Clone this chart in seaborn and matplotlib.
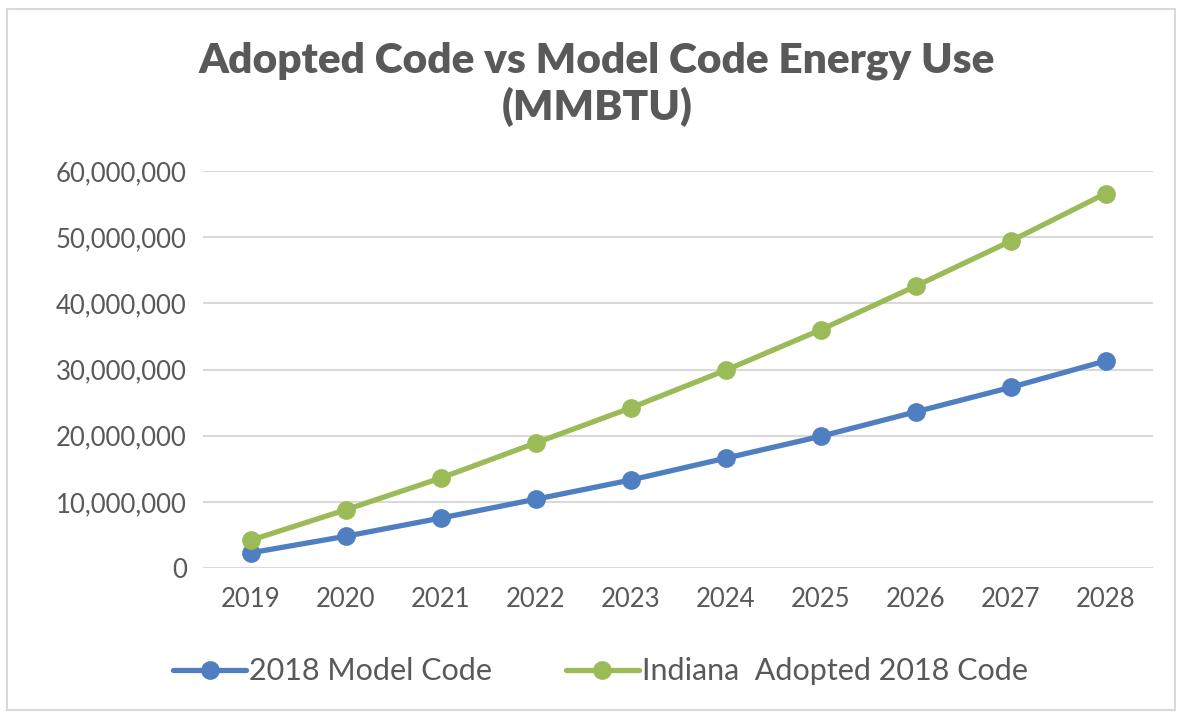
import pandas as pd
import matplotlib.pyplot as plt
import matplotlib.ticker as mticker
import seaborn as sns

# values (MMBTU)
years = [2019, 2020, 2021, 2022, 2023, 2024, 2025, 2026, 2027, 2028]
model_code = [2300000, 4800000, 7550000, 10400000, 13300000, 16600000,
              19900000, 23600000, 27300000, 31300000]
indiana_code = [4200000, 8800000, 13600000, 18900000, 24200000, 29900000,
                36000000, 42600000, 49400000, 56600000]
series_names = ["2018 Model Code", "Indiana  Adopted 2018 Code"]
colors = ["#4F7FC0", "#9BBB59"]

df = pd.DataFrame({
    "year": years * 2,
    "value": model_code + indiana_code,
    "series": [series_names[0]] * len(years) + [series_names[1]] * len(years),
})

sns.set_style("white")
plt.rcParams["font.family"] = ["Lato", "DejaVu Sans"]
text_color = "#595959"

fig = plt.figure(figsize=(11.82, 7.12), dpi=100)
ax = fig.add_axes([0.172, 0.2022, 0.8035, 0.5576])

sns.lineplot(data=df, x="year", y="value", hue="series", palette=colors,
             marker="o", markersize=13.5, markeredgewidth=0, linewidth=3.8,
             ax=ax)

ax.set_xlim(2018.5, 2028.5)
ax.set_ylim(0, 60000000)
ax.set_xticks(years)
ax.set_yticks(range(0, 60000001, 10000000))
ax.yaxis.set_major_formatter(mticker.FuncFormatter(lambda v, p: f"{int(v):,}"))
ax.grid(axis="y", color="#D9D9D9", linewidth=1.5)
ax.set_axisbelow(True)
for s in ax.spines.values():
    s.set_visible(False)
ax.tick_params(axis="both", length=0, labelsize=18.5, labelcolor=text_color)
ax.tick_params(axis="x", pad=14)
ax.tick_params(axis="y", pad=12)
ax.set_xlabel("")
ax.set_ylabel("")

fig.text(0.505, 0.882, "Adopted Code vs Model Code Energy Use\n(MMBTU)",
         ha="center", va="center", fontsize=30.5, fontweight="heavy",
         color=text_color, linespacing=1.2)

handles, labels = ax.get_legend_handles_labels()
ax.legend_.remove()
fig.legend(handles, labels, loc="center", bbox_to_anchor=(0.508, 0.057),
           ncol=2, frameon=False, fontsize=22, labelcolor=text_color,
           handlelength=2.4, handletextpad=0.1, columnspacing=2.4)

# light outer border like the source chart
fig.patches.append(plt.Rectangle((0.006, 0.003), 0.988, 0.985, fill=False,
                                 edgecolor="#D9D9D9", linewidth=1.5,
                                 transform=fig.transFigure))

fig.savefig("out.png", dpi=100)
